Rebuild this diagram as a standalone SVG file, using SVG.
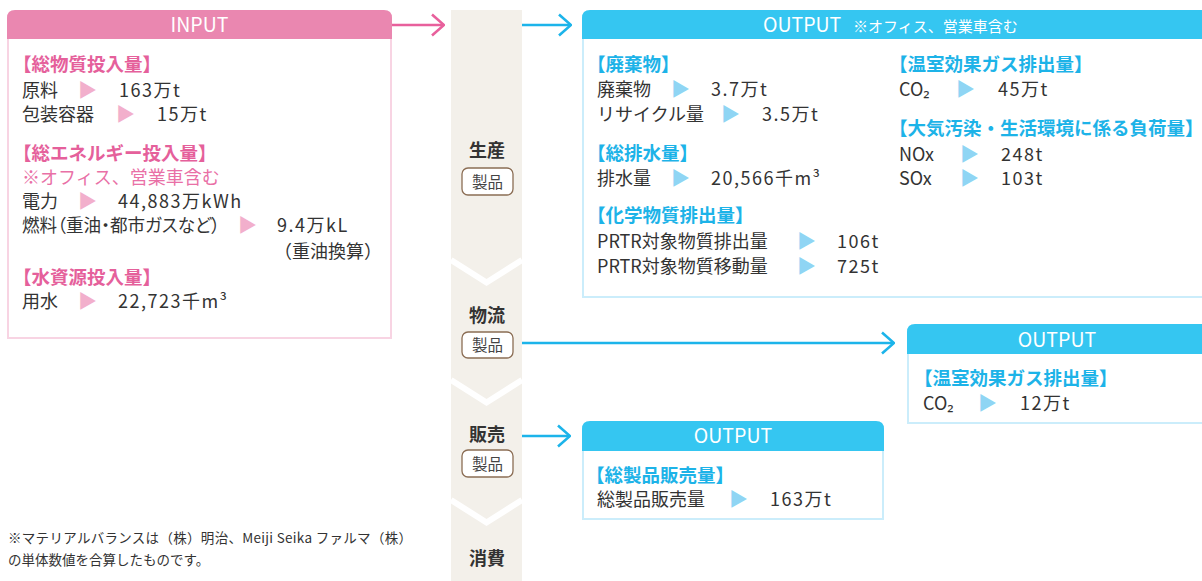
<svg xmlns="http://www.w3.org/2000/svg" width="1202" height="581" viewBox="0 0 1202 581">
<defs>
<style>
text{font-family:"Noto Sans CJK JP","Noto Sans",sans-serif;fill:#333;font-size:18px}
.hp{fill:#e5609b;font-weight:bold;font-size:18.5px}
.hb{fill:#1db3e8;font-weight:bold;font-size:18.5px}
.np{fill:#e970a6}
.tp{fill:#f2afcc;font-size:19px}
.tb{fill:#8fd5f4;font-size:19px}
.v{letter-spacing:1.5px}
.ttl{fill:#fff;font-size:19.5px;text-anchor:middle}
.stage{font-weight:bold;font-size:18px;text-anchor:middle;fill:#333}
.prod{font-size:15.5px;text-anchor:middle;fill:#444}
.pbox{fill:#fff;stroke:#8b6d54;stroke-width:1.3}
.bodyP{fill:#fff;stroke:#f8d4e3;stroke-width:2}
.bodyB{fill:#fff;stroke:#cbedfb;stroke-width:2}
.fn{font-size:13.5px;fill:#333}
.chev{fill:none;stroke:#fff;stroke-width:6}
</style>
<marker id="arrP" viewBox="0 0 14 24" refX="13" refY="12" markerWidth="14" markerHeight="24" markerUnits="userSpaceOnUse" orient="auto">
<path d="M1,1.5 L13,12 L1,22.5" fill="none" stroke="#e8609c" stroke-width="2.6"/>
</marker>
<marker id="arrB" viewBox="0 0 14 24" refX="13" refY="12" markerWidth="14" markerHeight="24" markerUnits="userSpaceOnUse" orient="auto">
<path d="M1,1.5 L13,12 L1,22.5" fill="none" stroke="#1cb4ea" stroke-width="2.6"/>
</marker>
</defs>
<rect width="1202" height="581" fill="#fff"/>

<g id="flow-column">
<rect x="451" y="10" width="71" height="571" fill="#f3f0ea"/>
<polyline class="chev" points="451,260 486.5,282.5 522,260"/>
<polyline class="chev" points="451,380 486.5,402.5 522,380"/>
<polyline class="chev" points="451,500 486.5,522.5 522,500"/>
</g>

<g id="stage-production">
<text class="stage" x="487" y="157">生産</text>
<rect class="pbox" x="462" y="168" width="51" height="27" rx="6"/>
<text class="prod" x="487.5" y="188">製品</text>
</g>
<g id="stage-logistics">
<text class="stage" x="487" y="322">物流</text>
<rect class="pbox" x="462" y="332" width="51" height="26" rx="6"/>
<text class="prod" x="487.5" y="351">製品</text>
</g>
<g id="stage-sales">
<text class="stage" x="487" y="441">販売</text>
<rect class="pbox" x="462" y="450" width="51" height="27" rx="6"/>
<text class="prod" x="487.5" y="470">製品</text>
</g>
<g id="stage-consumption">
<text class="stage" x="487" y="565">消費</text>
</g>

<g id="input-box">
<rect class="bodyP" x="8" y="38" width="383" height="300"/>
<path d="M7,39 V18 Q7,10 15,10 H384 Q392,10 392,18 V39 Z" fill="#ea87b0"/>
<text class="ttl" x="199.5" y="32">INPUT</text>
<text class="hp" x="13" y="71">【総物質投入量】</text>
<text x="22" y="97">原料</text><text class="tp" x="78" y="97">▶</text><text class="v" x="119" y="97">163万t</text>
<text x="22" y="121">包装容器</text><text class="tp" x="116" y="121">▶</text><text class="v" x="157" y="121">15万t</text>
<text class="hp" x="13" y="160">【総エネルギー投入量】</text>
<text class="np" x="22" y="184">※オフィス、営業車含む</text>
<text x="22" y="208">電力</text><text class="tp" x="78" y="208">▶</text><text class="v" x="118" y="208">44,883万kWh</text>
<text x="22" y="232" textLength="198" lengthAdjust="spacingAndGlyphs" style="font-feature-settings:'palt'">燃料（重油・都市ガスなど）</text><text class="tp" x="238" y="232">▶</text><text class="v" x="277" y="232">9.4万kL</text>
<text x="274" y="258">（重油換算）</text>
<text class="hp" x="13" y="284">【水資源投入量】</text>
<text x="22" y="308">用水</text><text class="tp" x="78" y="308">▶</text><text class="v" x="118" y="308">22,723千m³</text>
</g>

<g id="output-production">
<rect class="bodyB" x="583" y="38" width="630" height="259"/>
<path d="M582,39 V18 Q582,10 590,10 H1215 V39 Z" fill="#35c6f1"/>
<text x="763" y="32" style="fill:#fff;font-size:19.5px">OUTPUT<tspan x="853" style="font-size:15px">※オフィス、営業車含む</tspan></text>
<text class="hb" x="587" y="71">【廃棄物】</text>
<text x="597" y="96">廃棄物</text><text class="tb" x="671" y="96">▶</text><text class="v" x="711" y="96">3.7万t</text>
<text x="597" y="121">リサイクル量</text><text class="tb" x="721" y="121">▶</text><text class="v" x="762" y="121">3.5万t</text>
<text class="hb" x="587" y="160">【総排水量】</text>
<text x="597" y="185">排水量</text><text class="tb" x="671" y="185">▶</text><text class="v" x="711" y="185">20,566千m³</text>
<text class="hb" x="587" y="222">【化学物質排出量】</text>
<text x="597" y="248">PRTR対象物質排出量</text><text class="tb" x="797" y="248">▶</text><text class="v" x="837" y="248">106t</text>
<text x="597" y="273">PRTR対象物質移動量</text><text class="tb" x="797" y="273">▶</text><text class="v" x="837" y="273">725t</text>
<text class="hb" x="889" y="71">【温室効果ガス排出量】</text>
<text x="899" y="96">CO₂</text><text class="tb" x="956" y="96">▶</text><text class="v" x="998" y="96">45万t</text>
<text class="hb" x="889" y="135">【大気汚染・生活環境に係る負荷量】</text>
<text x="899" y="161">NOx</text><text class="tb" x="960" y="161">▶</text><text class="v" x="1001" y="161">248t</text>
<text x="899" y="185">SOx</text><text class="tb" x="960" y="185">▶</text><text class="v" x="1001" y="185">103t</text>
</g>

<g id="output-logistics">
<rect class="bodyB" x="908" y="353" width="305" height="70"/>
<path d="M907,354 V332 Q907,324 915,324 H1215 V354 Z" fill="#35c6f1"/>
<text class="ttl" x="1057" y="347">OUTPUT</text>
<text class="hb" x="914" y="385">【温室効果ガス排出量】</text>
<text x="923" y="410">CO₂</text><text class="tb" x="978" y="410">▶</text><text class="v" x="1020" y="410">12万t</text>
</g>

<g id="output-sales">
<rect class="bodyB" x="583" y="450" width="300" height="69"/>
<path d="M582,451 V429 Q582,421 590,421 H876 Q884,421 884,429 V451 Z" fill="#35c6f1"/>
<text class="ttl" x="733" y="443">OUTPUT</text>
<text class="hb" x="586" y="482">【総製品販売量】</text>
<text x="597" y="506">総製品販売量</text><text class="tb" x="729" y="506">▶</text><text class="v" x="770" y="506">163万t</text>
</g>

<g id="connectors">
<line x1="392" y1="25" x2="444" y2="25" stroke="#e8609c" stroke-width="2.6" marker-end="url(#arrP)"/>
<line x1="522" y1="25" x2="571" y2="25" stroke="#1cb4ea" stroke-width="2.6" marker-end="url(#arrB)"/>
<line x1="522" y1="343" x2="894" y2="343" stroke="#1cb4ea" stroke-width="2.6" marker-end="url(#arrB)"/>
<line x1="522" y1="436" x2="570" y2="436" stroke="#1cb4ea" stroke-width="2.6" marker-end="url(#arrB)"/>
</g>

<g id="footnote">
<text class="fn" x="8" y="543" textLength="404" lengthAdjust="spacing">※マテリアルバランスは（株）明治、Meiji Seika ファルマ（株）</text>
<text class="fn" x="8" y="565">の単体数値を合算したものです。</text>
</g>
</svg>
